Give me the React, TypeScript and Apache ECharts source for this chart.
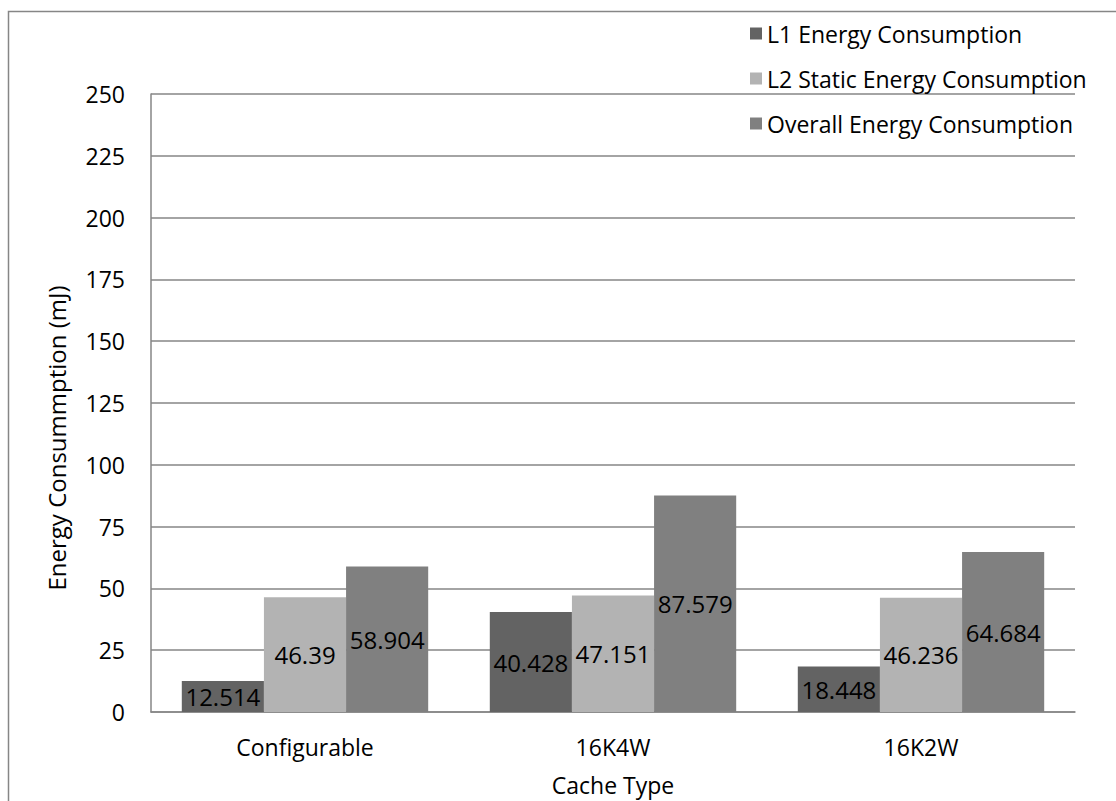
import React, { useEffect, useRef } from "react";
import * as echarts from "echarts";

const categories = ["Configurable", "16K4W", "16K2W"];
const l1Energy = [12.514, 40.428, 18.448];
const l2StaticEnergy = [46.39, 47.151, 46.236];
const overallEnergy = [58.904, 87.579, 64.684];
const seriesNames = [
  "L1 Energy Consumption",
  "L2 Static Energy Consumption",
  "Overall Energy Consumption",
];
const seriesColors = ["#636363", "#b3b3b3", "#808080"];
const yAxisTitle = "Energy Consummption (mJ)";
const xAxisTitle = "Cache Type";

const FONT = "'Open Sans', 'Liberation Sans', sans-serif";
const FS = 23;

export default function App() {
  const ref = useRef<HTMLDivElement>(null);

  useEffect(() => {
    if (!ref.current) return;
    const chart = echarts.init(ref.current, undefined, { renderer: "svg" });
    const values = [l1Energy, l2StaticEnergy, overallEnergy];

    chart.setOption({
      animation: false,
      backgroundColor: "#ffffff",
      textStyle: { fontFamily: FONT, color: "#000" },
      graphic: [
        {
          type: "rect",
          shape: { x: 8.5, y: 11.5, width: 1300, height: 1000 },
          style: { fill: "none", stroke: "#868686", lineWidth: 1.5 },
          silent: true,
          z: -10,
        },
        {
          type: "text",
          x: 56,
          y: 438,
          rotation: Math.PI / 2,
          style: {
            text: yAxisTitle,
            fontFamily: FONT,
            fontSize: 24,
            fill: "#000",
            align: "center",
            verticalAlign: "middle",
          },
        },
      ],
      legend: {
        orient: "vertical",
        left: 745,
        top: 17,
        itemWidth: 12,
        itemHeight: 12,
        itemGap: 22,
        icon: "rect",
        data: seriesNames,
        textStyle: {
          fontFamily: FONT,
          fontSize: FS,
          color: "#000",
          padding: [0, 0, 0, 0],
        },
      },
      grid: { left: 151, top: 94, right: 41, bottom: 84, containLabel: false },
      xAxis: {
        type: "category",
        data: categories,
        name: xAxisTitle,
        nameLocation: "middle",
        nameGap: 61,
        nameTextStyle: { fontFamily: FONT, fontSize: FS, color: "#000" },
        axisLine: { lineStyle: { color: "#868686", width: 1.5 } },
        axisTick: { show: false },
        axisLabel: { fontFamily: FONT, fontSize: FS, color: "#000", margin: 23 },
      },
      yAxis: {
        type: "value",
        min: 0,
        max: 250,
        interval: 25,
        axisLine: { show: true, lineStyle: { color: "#868686", width: 1.5 } },
        axisTick: { show: false },
        axisLabel: { fontFamily: FONT, fontSize: FS, color: "#000", margin: 26 },
        splitLine: { lineStyle: { color: "#868686", width: 1.5 } },
      },
      series: seriesNames.map((name, i) => ({
        name,
        type: "bar",
        data: values[i],
        barGap: "0%",
        barCategoryGap: "20%",
        itemStyle: { color: seriesColors[i] },
        label: {
          show: true,
          position: "inside",
          fontFamily: FONT,
          fontSize: 24,
          color: "#000",
        },
      })),
    });

    return () => chart.dispose();
  }, []);

  return (
    <div
      ref={ref}
      style={{ position: "fixed", left: 0, top: 0, width: 1116, height: 801 }}
    />
  );
}
